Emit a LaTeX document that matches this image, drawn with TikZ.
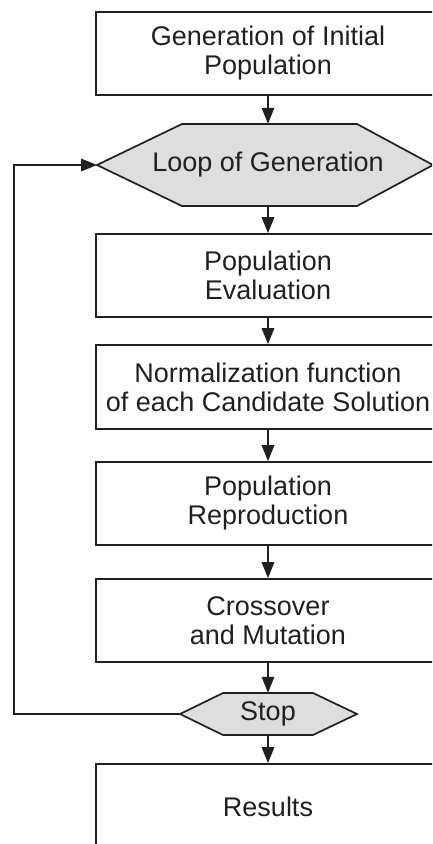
\documentclass[tikz,border=0pt]{standalone}
\usepackage{fontspec}
\setmainfont{Liberation Sans}
\usetikzlibrary{arrows.meta}
\definecolor{ink}{RGB}{35,31,32}
\definecolor{hexfill}{RGB}{222,222,222}
\begin{document}
\begin{tikzpicture}[x=1pt,y=-1pt,
  box/.style={draw=ink, line width=1.7pt, minimum width=344pt, minimum height=83pt,
    inner sep=0pt, align=center, font=\fontsize{27}{29}\selectfont, text=ink},
  lbl/.style={inner sep=0pt, align=center, font=\fontsize{27}{29}\selectfont, text=ink},
  hex/.style={draw=ink, fill=hexfill, line width=1.7pt, line join=miter},
  arr/.style={draw=ink, line width=1.7pt, -{Triangle[length=16pt,width=12.5pt]}}]
\useasboundingbox (0,0) rectangle (432,844);
\begin{scope}
\clip (0,0) rectangle (432,844);
\node[box] (init) at (268,53.5) {Generation of Initial\\Population};
\draw[hex] (97,165) -- (182,124) -- (357,124) -- (433,165) -- (357,206) -- (182,206) -- cycle;
\coordinate (loopW) at (97,165);
\node[lbl, minimum height=82pt] (loop) at (268,165) {Loop of Generation};
\node[box] (eval) at (268,275.5) {Population\\Evaluation};
\node[box, minimum height=84pt] (norm) at (268,387) {Normalization function\\of each Candidate Solution};
\node[box] (repr) at (268,503.5) {Population\\Reproduction};
\node[box] (cross) at (268,620.5) {Crossover\\and Mutation};
\draw[hex] (180,714) -- (223,693) -- (313,693) -- (357,714) -- (313,735) -- (223,735) -- cycle;
\coordinate (stopW) at (180,714);
\node[lbl, minimum height=42pt] (stop) at (268,714) {Stop};
\node[box, minimum height=86pt] (res) at (268,807) {Results};
\coordinate (back) at (14,714);
\draw[arr] (init) -- (loop);
\draw[arr] (loop) -- (eval);
\draw[arr] (eval) -- (norm);
\draw[arr] (norm) -- (repr);
\draw[arr] (repr) -- (cross);
\draw[arr] (cross) -- (stop);
\draw[arr] (stop) -- (res);
\draw[arr, line join=miter] (stopW) -- (back) |- (loopW);
\end{scope}
\end{tikzpicture}
\end{document}
